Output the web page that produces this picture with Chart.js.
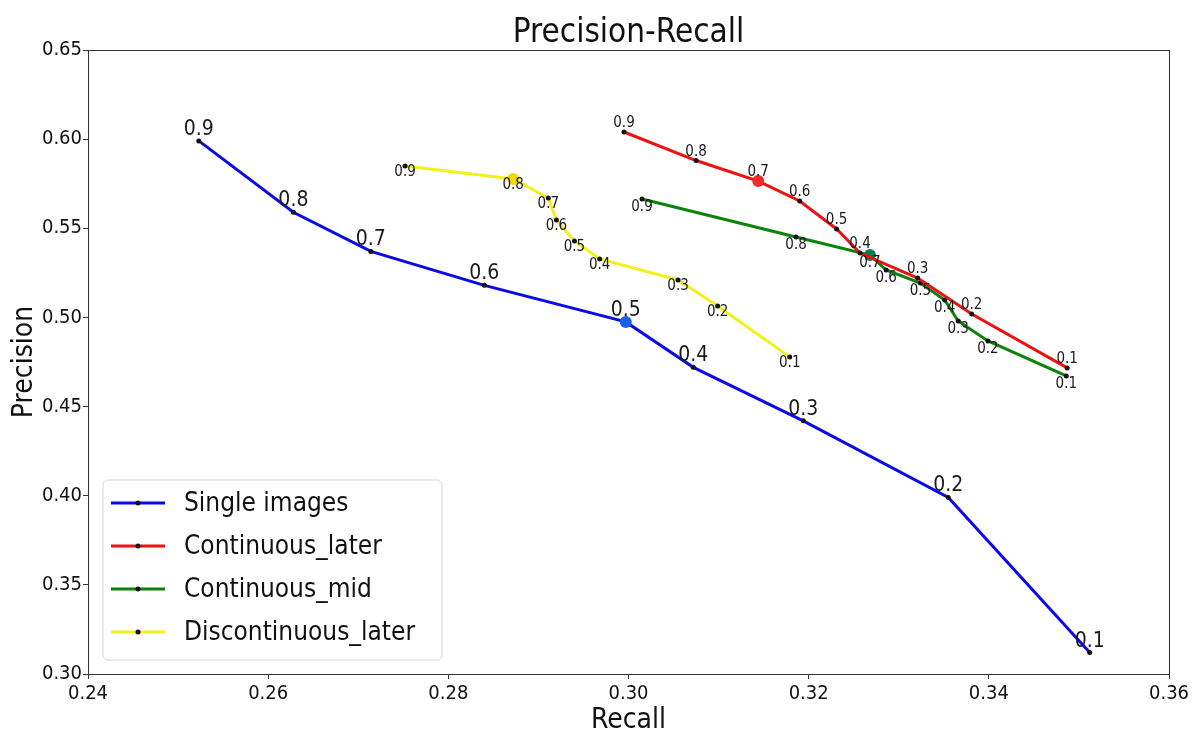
<!DOCTYPE html>
<html>
<head>
<meta charset="utf-8">
<script src="https://cdn.jsdelivr.net/npm/chart.js@4.4.1/dist/chart.umd.min.js"></script>
<style>
  html, body { margin: 0; padding: 0; background: #fff; }
  #wrap { width: 1193px; height: 735px; }
</style>
</head>
<body>
<div id="wrap"><canvas id="prChart"></canvas></div>
<script>
// thresholds shown next to every point
const thresholds = ['0.9', '0.8', '0.7', '0.6', '0.5', '0.4', '0.3', '0.2', '0.1'];

const singleRecall = [0.2523, 0.2628, 0.2714, 0.2840, 0.2997, 0.3072, 0.3194, 0.3355, 0.3512];
const singlePrecision = [0.599, 0.559, 0.537, 0.518, 0.4975, 0.472, 0.442, 0.399, 0.312];

const contLaterRecall = [0.2995, 0.3075, 0.3144, 0.3190, 0.3231, 0.3257, 0.3321, 0.3381, 0.3487];
const contLaterPrecision = [0.604, 0.588, 0.5765, 0.5653, 0.5496, 0.5361, 0.5221, 0.5019, 0.4717];

const contMidRecall = [0.3015, 0.3186, 0.3268, 0.3286, 0.3324, 0.3351, 0.3366, 0.3399, 0.3486];
const contMidPrecision = [0.5664, 0.5451, 0.535, 0.5266, 0.5193, 0.5098, 0.498, 0.4868, 0.4672];

const discLaterRecall = [0.2752, 0.2872, 0.2911, 0.2920, 0.2940, 0.2968, 0.3055, 0.3099, 0.3179];
const discLaterPrecision = [0.5849, 0.5777, 0.567, 0.5547, 0.5429, 0.5328, 0.5210, 0.5064, 0.4778];

const seriesNames = ['Single images', 'Continuous_later', 'Continuous_mid', 'Discontinuous_later'];

const xTicks = [0.24, 0.26, 0.28, 0.30, 0.32, 0.34, 0.36];
const yTicks = [0.30, 0.35, 0.40, 0.45, 0.50, 0.55, 0.60, 0.65];

const chartTitle = 'Precision-Recall';

const FONT = "'DejaVu Sans Condensed', 'DejaVu Sans', sans-serif";

function toPoints(xs, ys) {
    return xs.map((x, i) => ({x: x, y: ys[i]}));
}

// line colour, highlighted threshold index, its marker colour, label style
let styles = [
    {color: '#0a0ae8', big: 4, bigColor: '#1a5fe6', size: 21, place: 'above'},
    {color: '#ee1111', big: 2, bigColor: '#f02a2a', size: 15, place: 'above'},
    {color: '#0b820b', big: 2, bigColor: '#0b7a55', size: 15, place: 'below'},
    {color: '#f4f01c', big: 1, bigColor: '#f5d800', size: 15, place: 'center'}
];

let allPoints = [
    toPoints(singleRecall, singlePrecision),
    toPoints(contLaterRecall, contLaterPrecision),
    toPoints(contMidRecall, contMidPrecision),
    toPoints(discLaterRecall, discLaterPrecision)
];

let datasets = allPoints.map((pts, k) => ({
    label: seriesNames[k],
    data: pts,
    borderColor: styles[k].color,
    borderWidth: 3,
    tension: 0,
    fill: false,
    pointRadius: (c) => c.dataIndex === styles[k].big ? 6 : 2.5,
    pointHoverRadius: (c) => c.dataIndex === styles[k].big ? 6 : 2.5,
    pointBorderWidth: 0,
    pointBackgroundColor: (c) => c.dataIndex === styles[k].big ? styles[k].bigColor : '#111',
    order: k
}));

// threshold text beside each point
const pointLabels = {
    id: 'pointLabels',
    afterDatasetsDraw(chart) {
        const c = chart.ctx;
        c.save();
        c.fillStyle = '#1a1a1a';
        c.textAlign = 'center';
        chart.data.datasets.forEach((ds, k) => {
            const st = styles[k];
            const meta = chart.getDatasetMeta(k);
            c.font = st.size + 'px ' + FONT;
            meta.data.forEach((pt, i) => {
                if (st.place === 'above') {
                    c.textBaseline = 'bottom';
                    c.fillText(thresholds[i], pt.x, pt.y - 1);
                } else if (st.place === 'below') {
                    c.textBaseline = 'top';
                    c.fillText(thresholds[i], pt.x, pt.y + 1);
                } else {
                    c.textBaseline = 'middle';
                    c.fillText(thresholds[i], pt.x, pt.y + 6);
                }
            });
        });
        c.restore();
    }
};

// matplotlib style box round the plot, title over the plot, legend inside it
const frameAndLegend = {
    id: 'frameAndLegend',
    afterDraw(chart) {
        const c = chart.ctx;
        const a = chart.chartArea;
        c.save();
        c.strokeStyle = '#333';
        c.lineWidth = 1;
        c.strokeRect(a.left + 0.5, a.top + 0.5, a.right - a.left, a.bottom - a.top);

        c.fillStyle = '#111';
        c.font = '33px ' + FONT;
        c.textAlign = 'center';
        c.textBaseline = 'middle';
        c.fillText(chartTitle, (a.left + a.right) / 2, a.top - 17);

        const bx = a.left + 15, by = a.bottom - 194, bw = 339, bh = 180;
        c.fillStyle = 'rgba(255,255,255,0.85)';
        c.strokeStyle = '#d6d6d6';
        c.beginPath();
        c.roundRect(bx, by, bw, bh, 5);
        c.fill();
        c.stroke();

        c.font = '26px ' + FONT;
        c.textAlign = 'left';
        c.textBaseline = 'middle';
        chart.data.datasets.forEach((ds, k) => {
            const y = by + 23 + k * 43;
            c.strokeStyle = ds.borderColor;
            c.lineWidth = 3;
            c.beginPath();
            c.moveTo(bx + 8, y);
            c.lineTo(bx + 62, y);
            c.stroke();
            c.fillStyle = '#111';
            c.beginPath();
            c.arc(bx + 35, y, 2.5, 0, Math.PI * 2);
            c.fill();
            c.fillText(ds.label, bx + 81, y + 1);
        });
        c.restore();
    }
};

new Chart(document.getElementById('prChart'), {
    type: 'line',
    data: {datasets: datasets},
    options: {
        responsive: true,
        maintainAspectRatio: false,
        animation: false,
        layout: {padding: {left: 0, right: 24, top: 50, bottom: 0}},
        plugins: {
            legend: {display: false},
            tooltip: {enabled: false},
            title: {display: false}
        },
        scales: {
            x: {
                type: 'linear',
                min: 0.24,
                max: 0.36,
                afterBuildTicks: (s) => { s.ticks = xTicks.map(v => ({value: v})); },
                afterFit: (s) => { s.height = 61; },
                grid: {display: true, drawOnChartArea: false, drawTicks: true, tickLength: 5, color: '#333'},
                border: {display: true, color: '#333'},
                ticks: {
                    color: '#111',
                    font: {family: FONT, size: 20},
                    padding: 3,
                    maxRotation: 0,
                    callback: (v) => v.toFixed(2)
                },
                title: {
                    display: true,
                    text: 'Recall',
                    color: '#111',
                    font: {family: FONT, size: 28, lineHeight: 1.0},
                    padding: {top: 0, bottom: 0}
                }
            },
            y: {
                type: 'linear',
                min: 0.30,
                max: 0.65,
                afterBuildTicks: (s) => { s.ticks = yTicks.map(v => ({value: v})); },
                afterFit: (s) => { s.width = 88; },
                grid: {display: true, drawOnChartArea: false, drawTicks: true, tickLength: 5, color: '#333'},
                border: {display: true, color: '#333'},
                ticks: {
                    color: '#111',
                    font: {family: FONT, size: 20},
                    padding: 1,
                    callback: (v) => v.toFixed(2)
                },
                title: {
                    display: true,
                    text: 'Precision',
                    color: '#111',
                    font: {family: FONT, size: 28, lineHeight: 1.0},
                    padding: {top: 11, bottom: 0}
                }
            }
        }
    },
    plugins: [pointLabels, frameAndLegend]
});
</script>
</body>
</html>
